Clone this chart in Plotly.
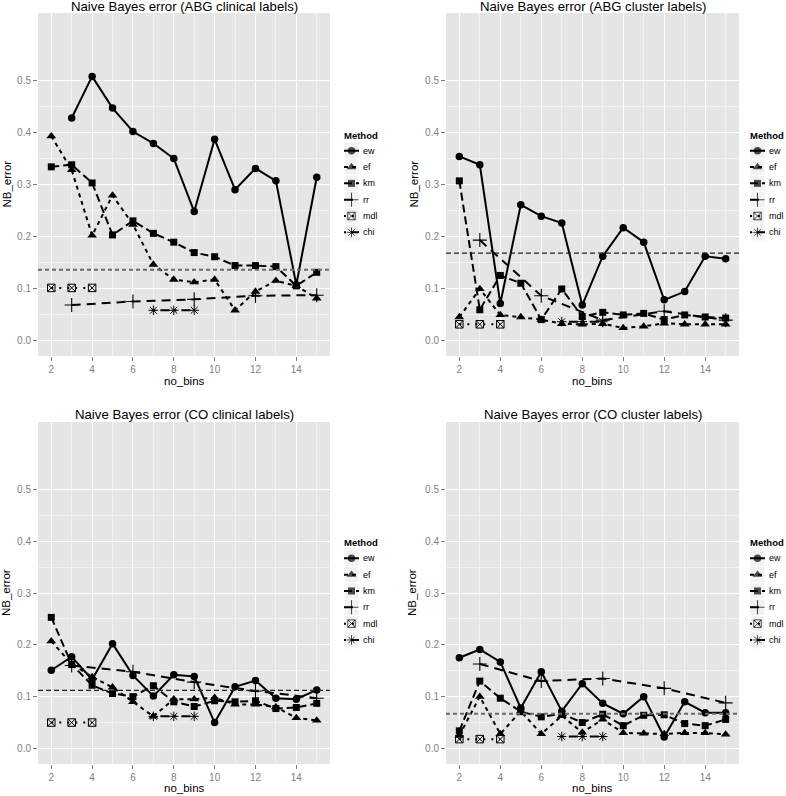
import plotly.graph_objects as go

W, H = 786, 796

# ---------------- data ----------------
methods = ["ew", "ef", "km", "rr", "mdl", "chi"]

bins_all = [2, 3, 4, 5, 6, 7, 8, 9, 10, 11, 12, 13, 14, 15]
bins_ew_abg_clin = [3, 4, 5, 6, 7, 8, 9, 10, 11, 12, 13, 14, 15]
bins_rr = [3, 6, 9, 12, 15]
bins_mdl = [2, 3, 4]
bins_chi = [7, 8, 9]

titles = [
    "Naive Bayes error (ABG clinical labels)",
    "Naive Bayes error (ABG cluster labels)",
    "Naive Bayes error (CO clinical labels)",
    "Naive Bayes error (CO cluster labels)",
]

# ABG clinical
abg_clin_ew = [0.428, 0.508, 0.447, 0.402, 0.379, 0.350, 0.248, 0.387, 0.290, 0.331, 0.307, 0.107, 0.314]
abg_clin_ef = [0.393, 0.328, 0.202, 0.279, 0.223, 0.146, 0.117, 0.112, 0.117, 0.058, 0.094, 0.115, 0.105, 0.081]
abg_clin_km = [0.334, 0.338, 0.303, 0.203, 0.230, 0.206, 0.189, 0.169, 0.161, 0.144, 0.144, 0.142, 0.105, 0.131]
abg_clin_rr = [0.068, 0.075, 0.079, 0.086, 0.087]
abg_clin_mdl = [0.101, 0.101, 0.101]
abg_clin_chi = [0.058, 0.058, 0.058]
abg_clin_ref = 0.136

# ABG cluster
abg_clus_ew = [0.354, 0.338, 0.071, 0.261, 0.239, 0.226, 0.068, 0.162, 0.217, 0.189, 0.078, 0.094, 0.162, 0.157]
abg_clus_ef = [0.045, 0.099, 0.049, 0.045, 0.040, 0.032, 0.031, 0.032, 0.024, 0.027, 0.033, 0.031, 0.031, 0.031]
abg_clus_km = [0.307, 0.059, 0.125, 0.110, 0.040, 0.099, 0.046, 0.054, 0.049, 0.052, 0.040, 0.049, 0.045, 0.043]
abg_clus_rr = [0.193, 0.086, 0.039, 0.056, 0.039]
abg_clus_mdl = [0.031, 0.031, 0.031]
abg_clus_chi = [0.036, 0.036, 0.036]
abg_clus_ref = 0.168

# CO clinical
co_clin_ew = [0.151, 0.177, 0.133, 0.202, 0.141, 0.101, 0.142, 0.139, 0.050, 0.119, 0.131, 0.097, 0.095, 0.113]
co_clin_ef = [0.207, 0.163, 0.138, 0.118, 0.090, 0.062, 0.095, 0.095, 0.098, 0.085, 0.085, 0.080, 0.059, 0.054]
co_clin_km = [0.253, 0.162, 0.122, 0.106, 0.100, 0.121, 0.090, 0.081, 0.092, 0.090, 0.092, 0.077, 0.079, 0.087]
co_clin_rr = [0.160, 0.148, 0.128, 0.111, 0.097]
co_clin_mdl = [0.050, 0.050, 0.050]
co_clin_chi = [0.062, 0.062, 0.062]
co_clin_ref = 0.112

# CO cluster
co_clus_ew = [0.175, 0.191, 0.167, 0.078, 0.148, 0.072, 0.125, 0.087, 0.067, 0.100, 0.022, 0.090, 0.069, 0.069]
co_clus_ef = [0.025, 0.100, 0.028, 0.072, 0.028, 0.063, 0.031, 0.056, 0.030, 0.029, 0.028, 0.030, 0.030, 0.027]
co_clus_km = [0.034, 0.130, 0.097, 0.071, 0.061, 0.067, 0.050, 0.066, 0.044, 0.064, 0.065, 0.048, 0.044, 0.056]
co_clus_rr = [0.163, 0.130, 0.135, 0.116, 0.088]
co_clus_mdl = [0.018, 0.018, 0.018]
co_clus_chi = [0.023, 0.023, 0.023]
co_clus_ref = 0.067

x_ticks = [2, 4, 6, 8, 10, 12, 14]
x_minor = [3, 5, 7, 9, 11, 13, 15]
y_ticks = [0.0, 0.1, 0.2, 0.3, 0.4, 0.5]
y_ticklabels = ["0.0", "0.1", "0.2", "0.3", "0.4", "0.5"]
y_minor = [0.05, 0.15, 0.25, 0.35, 0.45]

panels = [
    dict(ew=(bins_ew_abg_clin, abg_clin_ew), ef=(bins_all, abg_clin_ef), km=(bins_all, abg_clin_km),
         rr=(bins_rr, abg_clin_rr), mdl=(bins_mdl, abg_clin_mdl), chi=(bins_chi, abg_clin_chi),
         ref=abg_clin_ref),
    dict(ew=(bins_all, abg_clus_ew), ef=(bins_all, abg_clus_ef), km=(bins_all, abg_clus_km),
         rr=(bins_rr, abg_clus_rr), mdl=(bins_mdl, abg_clus_mdl), chi=(bins_chi, abg_clus_chi),
         ref=abg_clus_ref),
    dict(ew=(bins_all, co_clin_ew), ef=(bins_all, co_clin_ef), km=(bins_all, co_clin_km),
         rr=(bins_rr, co_clin_rr), mdl=(bins_mdl, co_clin_mdl), chi=(bins_chi, co_clin_chi),
         ref=co_clin_ref),
    dict(ew=(bins_all, co_clus_ew), ef=(bins_all, co_clus_ef), km=(bins_all, co_clus_km),
         rr=(bins_rr, co_clus_rr), mdl=(bins_mdl, co_clus_mdl), chi=(bins_chi, co_clus_chi),
         ref=co_clus_ref),
]

# ---------------- styles ----------------
FONT = "Liberation Sans, Arial, Helvetica, sans-serif"
style = {
    "ew":  dict(dash="solid", symbol="circle", size=7.5, lw=0),
    "ef":  dict(dash="4px,4px", symbol="triangle-up", size=8.5, lw=0),
    "km":  dict(dash="8px,4px", symbol="square", size=7, lw=0),
    "rr":  dict(dash="9px,6px", symbol="cross-thin-open", size=10, lw=1.1),
    "mdl": dict(dash="2px,6px", symbol="square-x-open", size=7.5, lw=1),
    "chi": dict(dash="2px,5px,9px,5px", symbol="asterisk-open", size=8, lw=1),
}
ref_style = [
    dict(color="#6a6a6a", width=2, dash="4px,3px"),
    dict(color="#222222", width=1.2, dash="5px,3px"),
    dict(color="#222222", width=1.2, dash="5px,3px"),
    dict(color="#6a6a6a", width=2, dash="4px,3px"),
]

# panel geometry (pixels): left, right, top, bottom
geom = [(38, 330, 13, 356), (446, 739, 13, 356), (38, 330, 422, 764), (446, 739, 422, 764)]
title_y = [7, 7, 415, 415]
xlab_y = [381, 381, 788, 788]
# legend geometry: key-left x, first item center y, title y
leg = [(344, 150.7, 135), (750, 150.7, 135), (344, 558.3, 542.7), (750, 558.3, 542.7)]
ITEM = 16.33
KEYW = 15
ylab_x = [6, 413, 6, 412]


def px_x(v):
    return v / W


def px_y(v):
    return 1 - v / H


fig = go.Figure()
layout = dict(
    width=W, height=H, margin=dict(l=0, r=0, t=0, b=0),
    paper_bgcolor="white", plot_bgcolor="#E5E5E5",
    showlegend=False, font=dict(family=FONT, color="black"),
)
annotations = []
shapes = []

for p, (panel, g) in enumerate(zip(panels, geom)):
    n = p + 1
    xa = "x" if n == 1 else f"x{n}"
    ya = "y" if n == 1 else f"y{n}"
    l, r, t, b = g
    layout[f"xaxis{'' if n == 1 else n}"] = dict(
        domain=[px_x(l), px_x(r)], anchor=ya, range=[1.35, 15.65],
        tickmode="array", tickvals=x_ticks, ticks="outside", ticklen=4, tickwidth=1,
        tickcolor="#7f7f7f", tickfont=dict(size=10, color="#7f7f7f"),
        showgrid=True, gridcolor="white", gridwidth=1.2, zeroline=False, showline=False,
        minor=dict(tickmode="array", tickvals=x_minor, showgrid=True, gridcolor="#F2F2F2", gridwidth=0.6, ticks=""),
        fixedrange=True,
    )
    layout[f"yaxis{'' if n == 1 else n}"] = dict(
        domain=[px_y(b), px_y(t)], anchor=xa, range=[-0.03, 0.63],
        tickmode="array", tickvals=y_ticks, ticktext=y_ticklabels, ticks="outside", ticklen=4, tickwidth=1,
        tickcolor="#7f7f7f", tickfont=dict(size=10, color="#7f7f7f"),
        showgrid=True, gridcolor="white", gridwidth=1.2, zeroline=False, showline=False,
        minor=dict(tickmode="array", tickvals=y_minor, showgrid=True, gridcolor="#F2F2F2", gridwidth=0.6, ticks=""),
        fixedrange=True,
    )
    # data traces
    for m in methods:
        xs, ys = panel[m]
        s = style[m]
        fig.add_trace(go.Scatter(
            x=xs, y=ys, mode="lines+markers", name=m, xaxis=xa, yaxis=ya,
            line=dict(color="black", width=2, dash=s["dash"]),
            marker=dict(symbol=s["symbol"], size=s["size"], color="black",
                        line=dict(color="black", width=s["lw"])),
            cliponaxis=False, showlegend=False,
        ))
    # reference line
    shapes.append(dict(type="line", xref=f"{xa} domain", x0=0, x1=1, yref=ya,
                       y0=panel["ref"], y1=panel["ref"], line=ref_style[p], layer="above"))
    # title
    annotations.append(dict(text=titles[p], xref="paper", yref="paper", x=px_x((l + r) / 2), y=px_y(title_y[p]),
                            xanchor="center", yanchor="middle", showarrow=False,
                            font=dict(size=13.2, color="black", family=FONT)))
    # axis titles
    annotations.append(dict(text="no_bins", xref="paper", yref="paper", x=px_x((l + r) / 2), y=px_y(xlab_y[p]),
                            xanchor="center", yanchor="middle", showarrow=False,
                            font=dict(size=11.5, color="black", family=FONT)))
    annotations.append(dict(text="NB_error", xref="paper", yref="paper", x=px_x(ylab_x[p]), y=px_y((t + b) / 2),
                            xanchor="center", yanchor="middle", textangle=-90, showarrow=False,
                            font=dict(size=11.5, color="black", family=FONT)))

    # legend (drawn with a small helper axis)
    kx, fy, ty = leg[p]
    ln = n + 4
    lxa, lya = f"x{ln}", f"y{ln}"
    top = fy - ITEM / 2
    bot = fy + ITEM * (len(methods) - 0.5)
    layout[f"xaxis{ln}"] = dict(domain=[px_x(kx), px_x(kx + KEYW)], anchor=lya, range=[0, 1],
                                visible=False, fixedrange=True)
    layout[f"yaxis{ln}"] = dict(domain=[px_y(bot), px_y(top)], anchor=lxa,
                                range=[len(methods) - 0.5, -0.5], visible=False, fixedrange=True)
    annotations.append(dict(text="<b>Method</b>", xref="paper", yref="paper", x=px_x(kx - 2), y=px_y(ty),
                            xanchor="left", yanchor="middle", showarrow=False,
                            font=dict(size=9.5, color="black", family=FONT)))
    for i, m in enumerate(methods):
        s = style[m]
        shapes.append(dict(type="rect", xref=lxa, yref=lya, x0=0, x1=1, y0=i - 0.5, y1=i + 0.5,
                           fillcolor="#F2F2F2", line=dict(color="white", width=1), layer="below"))
        fig.add_trace(go.Scatter(
            x=[0, 0.5, 1], y=[i, i, i], mode="lines+markers", xaxis=lxa, yaxis=lya,
            line=dict(color="black", width=2, dash=s["dash"]),
            marker=dict(symbol=s["symbol"], size=[0, s["size"], 0], color="black",
                        line=dict(color="black", width=s["lw"])),
            cliponaxis=False, showlegend=False, hoverinfo="skip",
        ))
        annotations.append(dict(text=m, xref="paper", yref="paper", x=px_x(kx + KEYW + 2),
                                y=px_y(fy + i * ITEM), xanchor="left", yanchor="middle", showarrow=False,
                                font=dict(size=9, color="black", family=FONT)))

layout["annotations"] = annotations
layout["shapes"] = shapes
fig.update_layout(**layout)
fig.write_html("out.html", config={"displayModeBar": False},
               post_script="document.body.style.margin='0px';document.body.style.overflow='hidden';")
